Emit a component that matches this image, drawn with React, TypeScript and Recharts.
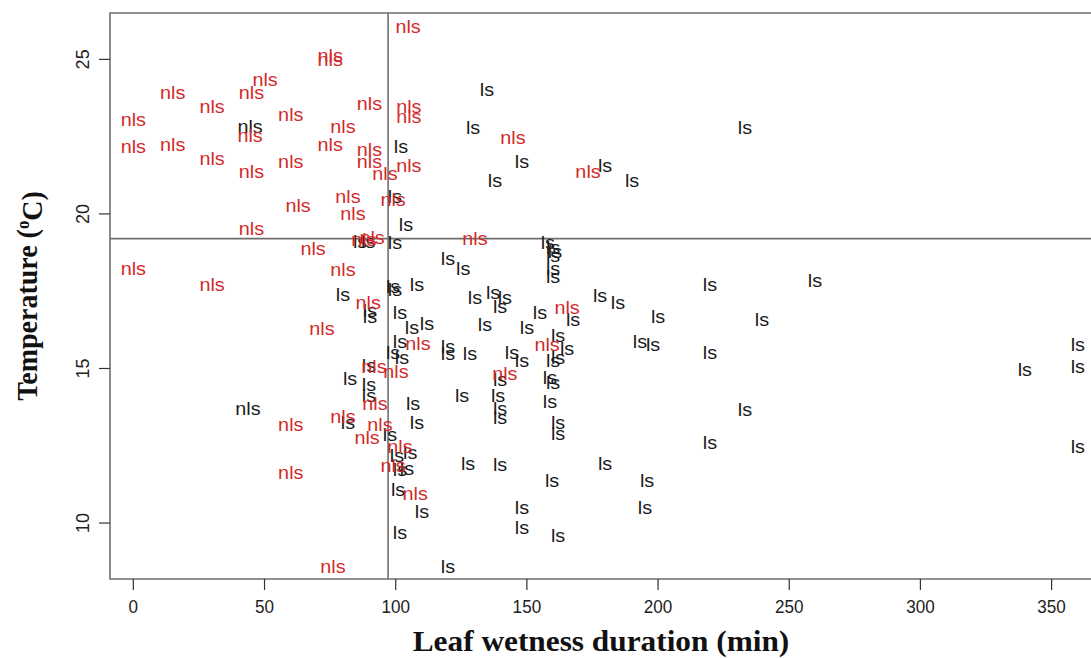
import React from 'react';
import { ScatterChart, Scatter, XAxis, YAxis, ReferenceLine, ReferenceArea } from 'recharts';

// [leaf wetness duration (min), temperature (°C)] per observation
const nlsRed: [number, number][] = [
  [104.7, 26.05], [75, 25.14], [75, 25.01], [50.2, 24.36], [45, 23.94], [15, 23.94],
  [30, 23.46], [90, 23.56], [105, 23.49], [105, 23.14], [0, 23.07], [60, 23.23],
  [79.9, 22.84], [44.5, 22.55], [0, 22.17], [15, 22.23], [75, 22.23], [90, 22.07],
  [90, 21.68], [30, 21.78], [60, 21.68], [105, 21.55], [45, 21.36], [95.9, 21.32],
  [144.7, 22.46], [173.3, 21.36], [81.8, 20.55], [99, 20.45], [62.8, 20.26], [83.7, 20.0],
  [45, 19.54], [130.2, 19.22], [87.9, 19.16], [91, 19.25], [68.5, 18.87], [0, 18.25],
  [79.9, 18.19], [30, 17.73], [89.5, 17.15], [71.9, 16.28], [108.5, 15.82], [91.7, 15.05],
  [100.1, 14.89], [141.6, 14.85], [92.1, 13.88], [60, 13.2], [79.9, 13.46], [94, 13.2],
  [89.1, 12.78], [101.6, 12.46], [99, 11.85], [60, 11.65], [107.4, 10.97], [76.1, 8.58],
  [165.3, 16.96], [157.7, 15.76],
];

const nlsBlack: [number, number][] = [
  [44.5, 22.84], [43.7, 13.69],
];

const lsBlack: [number, number][] = [
  [134.8, 24.04], [129.5, 22.78], [233.1, 22.81], [102, 22.17], [148.1, 21.68], [179.8, 21.58],
  [137.8, 21.07], [190.1, 21.07], [99.7, 20.55], [103.9, 19.67], [99.7, 19.06], [86.4, 19.12],
  [89.5, 19.12], [158, 19.09], [160, 18.9], [160.7, 18.77], [160, 18.67], [119.9, 18.57],
  [125.7, 18.25], [160, 18.25], [160, 17.96], [219.8, 17.73], [259.8, 17.86], [99, 17.64],
  [99.7, 17.54], [108.1, 17.73], [79.9, 17.38], [90.2, 16.89], [90.2, 16.67], [101.6, 16.8],
  [130.2, 17.28], [137.1, 17.47], [141.6, 17.28], [139.8, 17.02], [177.9, 17.35], [184.7, 17.15],
  [167.6, 16.57], [155, 16.8], [200, 16.67], [239.6, 16.57], [106.2, 16.31], [111.9, 16.44],
  [134, 16.41], [150, 16.31], [161.9, 16.08], [193.1, 15.86], [198.1, 15.76], [101.6, 15.86],
  [119.9, 15.7], [119.9, 15.5], [165.3, 15.66], [128.3, 15.5], [144.3, 15.53], [148.1, 15.27],
  [161.9, 15.37], [160, 15.27], [219.8, 15.53], [99, 15.53], [102.4, 15.37], [360, 15.76],
  [339.8, 14.98], [360, 15.05], [89.8, 15.08], [82.6, 14.66], [89.8, 14.47], [89.8, 14.14],
  [158.8, 14.72], [139.8, 14.63], [160, 14.56], [125.3, 14.14], [139, 14.14], [158.8, 13.92],
  [106.6, 13.88], [139.8, 13.72], [139.8, 13.4], [161.9, 13.24], [161.9, 12.91], [108.1, 13.24],
  [81.8, 13.24], [97.8, 12.85], [219.8, 12.59], [233.1, 13.66], [100.5, 12.2], [105.5, 12.27],
  [101.6, 11.72], [104.3, 11.78], [127.6, 11.94], [139.8, 11.88], [179.8, 11.94], [159.6, 11.39],
  [195.8, 11.39], [100.9, 11.1], [110, 10.36], [148.1, 10.49], [195, 10.49], [148.1, 9.87],
  [161.9, 9.61], [101.6, 9.68], [119.9, 8.58], [360, 12.46],
];

const xTicks = [0, 50, 100, 150, 200, 250, 300, 350];
const yTicks = [10, 15, 20, 25];
const xDomain: [number, number] = [-8.9, 365.4];
const yDomain: [number, number] = [8.19, 26.5];
const wetnessThreshold = 97.1;
const tempThreshold = 19.2;

const RED = '#d32a2a';
const BLACK = '#1a1a1a';
const GRID = '#6e6e6e';
const SANS = '"Liberation Sans", Arial, Helvetica, sans-serif';
const SERIF = '"Liberation Serif", "Times New Roman", Times, serif';

const toPoints = (rows: [number, number][]) => rows.map(([x, y]) => ({ x, y }));

const textMarker = (label: string, color: string) => (props: any) => {
  const { cx, cy } = props;
  if (cx == null || cy == null) return <g />;
  return (
    <text
      transform={`translate(${cx},${cy}) scale(1.1,1)`}
      textAnchor="middle"
      dy="0.36em"
      fill={color}
      fontFamily={SANS}
      fontSize={18}
    >
      {label}
    </text>
  );
};

const XTick = (props: any) => {
  const { x, y, payload } = props;
  return (
    <text
      transform={`translate(${x},${y + 21}) scale(0.95,1)`}
      textAnchor="middle"
      fill="#222"
      fontFamily={SANS}
      fontSize={18}
    >
      {payload.value}
    </text>
  );
};

const YTick = (props: any) => {
  const { x, y, payload } = props;
  return (
    <text
      transform={`translate(${x - 8},${y}) rotate(-90)`}
      textAnchor="middle"
      fill="#222"
      fontFamily={SANS}
      fontSize={18}
    >
      {payload.value}
    </text>
  );
};

const XTitle = (props: any) => {
  const { viewBox } = props;
  const cx = viewBox.x + viewBox.width / 2;
  return (
    <text
      transform={`translate(${cx},${viewBox.y + 72}) scale(1.08,1)`}
      textAnchor="middle"
      fill="#111"
      fontFamily={SERIF}
      fontWeight="bold"
      fontSize={29}
    >
      Leaf wetness duration (min)
    </text>
  );
};

const YTitle = (props: any) => {
  const { viewBox } = props;
  const cy = viewBox.y + viewBox.height / 2;
  return (
    <text
      transform={`translate(37,${cy}) scale(1.08,1) rotate(-90)`}
      textAnchor="middle"
      fill="#111"
      fontFamily={SERIF}
      fontWeight="bold"
      fontSize={28}
    >
      Temperature (
      <tspan dy="-0.42em" fontSize="0.6em">o</tspan>
      <tspan dy="0.42em">C)</tspan>
    </text>
  );
};

export default function App() {
  return (
    <div
      style={{
        position: 'absolute',
        left: 0,
        top: 0,
        width: 1091,
        height: 658,
        overflow: 'hidden',
        background: '#fff',
      }}
    >
      <ScatterChart
        width={1100}
        height={658}
        margin={{ top: 13, right: 8, bottom: 19, left: 50 }}
      >
        <XAxis
          type="number"
          dataKey="x"
          domain={xDomain}
          ticks={xTicks}
          allowDataOverflow
          axisLine={false}
          tickLine={{ stroke: '#333', strokeWidth: 1.2 }}
          tickSize={11}
          tick={<XTick />}
          height={60}
          label={{ content: <XTitle /> }}
        />
        <YAxis
          type="number"
          dataKey="y"
          domain={yDomain}
          ticks={yTicks}
          allowDataOverflow
          axisLine={false}
          tickLine={{ stroke: '#333', strokeWidth: 1.2 }}
          tickSize={11}
          tick={<YTick />}
          width={60}
          label={{ content: <YTitle /> }}
        />
        <ReferenceArea
          x1={xDomain[0]}
          x2={xDomain[1]}
          y1={yDomain[0]}
          y2={yDomain[1]}
          fill="none"
          stroke={GRID}
          strokeWidth={1.6}
        />
        <ReferenceLine x={wetnessThreshold} stroke={GRID} strokeWidth={1.6} />
        <ReferenceLine y={tempThreshold} stroke={GRID} strokeWidth={1.6} />
        <Scatter
          data={toPoints(lsBlack)}
          isAnimationActive={false}
          shape={textMarker('ls', BLACK)}
        />
        <Scatter
          data={toPoints(nlsBlack)}
          isAnimationActive={false}
          shape={textMarker('nls', BLACK)}
        />
        <Scatter
          data={toPoints(nlsRed)}
          isAnimationActive={false}
          shape={textMarker('nls', RED)}
        />
      </ScatterChart>
    </div>
  );
}
